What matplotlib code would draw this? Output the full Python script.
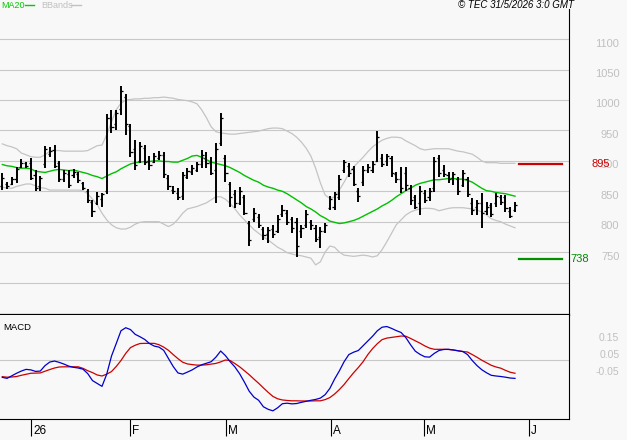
import numpy as np
import matplotlib.pyplot as plt
from matplotlib.lines import Line2D

# daily bars, first session late Dec 2025, last one end of May 2026
opens = [858, 862, 862, 870, 890, 896, 896, 876, 858, 895,
         912, 918, 896, 870, 878, 876, 878, 864, 850, 832,
         830, 838, 850, 970, 960, 985, 1005, 958, 920, 900,
         922, 900, 898, 905, 910, 872, 852, 848, 842, 874,
         882, 885, 895, 905, 898, 885, 930, 905, 862, 845,
         830, 840, 798, 805, 808, 788, 780, 788, 785, 812,
         815, 804, 800, 785, 795, 800, 790, 775, 785, 823,
         825, 840, 885, 892, 886, 850, 865, 885, 885, 900,
         905, 900, 905, 878, 870, 880, 855, 840, 830, 848,
         840, 855, 905, 885, 876, 872, 870, 860, 870, 830,
         825, 830, 818, 828, 830, 840, 840, 818, 820]
highs = [880, 865, 874, 890, 903, 898, 905, 885, 875, 925,
         923, 926, 900, 885, 885, 887, 882, 865, 854, 836,
         849, 847, 977, 984, 984, 1023, 1010, 961, 934, 931,
         926, 908, 913, 916, 915, 877, 859, 855, 882, 888,
         893, 898, 918, 915, 906, 929, 979, 910, 865, 852,
         857, 844, 801, 823, 813, 791, 791, 795, 811, 828,
         819, 808, 806, 795, 819, 803, 795, 791, 798, 842,
         849, 877, 902, 897, 892, 855, 892, 895, 900, 949,
         911, 911, 908, 882, 890, 890, 860, 844, 859, 852,
         855, 906, 910, 893, 882, 882, 874, 885, 874, 839,
         836, 847, 832, 831, 847, 844, 844, 824, 832]
lows = [852, 854, 860, 864, 888, 888, 869, 851, 851, 888,
        906, 888, 865, 865, 855, 872, 864, 852, 831, 808,
        828, 824, 846, 946, 951, 976, 943, 906, 885, 897,
        893, 885, 897, 902, 872, 852, 846, 836, 836, 870,
        877, 882, 888, 888, 877, 831, 925, 865, 824, 823,
        828, 811, 760, 800, 790, 770, 765, 773, 781, 808,
        795, 781, 742, 773, 790, 786, 767, 757, 781, 819,
        819, 836, 880, 874, 859, 832, 859, 880, 880, 898,
        890, 892, 874, 864, 847, 851, 828, 821, 811, 831,
        834, 849, 874, 874, 864, 860, 844, 857, 841, 811,
        811, 790, 811, 808, 824, 828, 816, 806, 816]
closes = [872, 858, 870, 887, 897, 892, 872, 856, 872, 920,
          916, 892, 870, 880, 860, 882, 868, 856, 835, 818,
          843, 845, 970, 955, 978, 1015, 960, 915, 893, 925,
          898, 893, 908, 910, 878, 858, 850, 840, 876, 884,
          888, 895, 910, 896, 880, 920, 970, 880, 840, 830,
          850, 815, 770, 815, 795, 778, 786, 780, 805, 820,
          800, 790, 760, 790, 812, 795, 772, 785, 795, 838,
          845, 870, 898, 880, 862, 842, 885, 890, 895, 940,
          895, 908, 880, 870, 855, 860, 835, 825, 850, 835,
          850, 900, 880, 878, 870, 878, 850, 880, 845, 820,
          830, 815, 825, 812, 843, 832, 822, 810, 828]

ma20 = [894, 892, 891, 889, 888, 888, 887, 883, 882, 881,
        883, 885, 886, 885, 884, 885, 883, 881, 879, 876,
        874, 871, 875, 879, 882, 887, 891, 895, 897, 898,
        899, 899, 900, 900, 899, 899, 898, 898, 901, 904,
        908, 909, 906, 902, 898, 896, 894, 892, 889, 885,
        881, 876, 872, 868, 865, 860, 857, 855, 852, 850,
        846, 841, 836, 831, 825, 821, 816, 810, 806, 801,
        799, 797, 798, 800, 802, 805, 809, 813, 817, 821,
        826, 830, 835, 841, 846, 851, 855, 860, 863, 865,
        867, 869, 869, 870, 871, 871, 870, 870, 868, 865,
        860, 855, 851, 850, 848, 847, 846, 844, 842]
bb_upper = [928, 925, 923, 920, 913, 910, 907, 906, 906, 910,
            916, 917, 917, 916, 916, 916, 916, 916, 917, 921,
            925, 926, 943, 964, 984, 995, 1000, 1001, 1002, 1002,
            1003, 1003, 1004, 1004, 1005, 1004, 1003, 1001, 1000, 999,
            997, 994, 984, 971, 956, 948, 946, 945, 944, 944,
            945, 946, 947, 948, 949, 951, 953, 954, 954, 953,
            949, 945, 939, 931, 921, 908, 888, 864, 844, 838,
            841, 852, 865, 879, 890, 898, 906, 915, 923, 929,
            934, 937, 939, 939, 938, 933, 929, 925, 920, 918,
            919, 920, 920, 920, 920, 918, 916, 915, 913, 911,
            906, 900, 897, 897, 897, 896, 896, 896, 896]
bb_lower = [857, 855, 855, 858, 860, 862, 862, 859, 856, 855,
            852, 852, 852, 852, 852, 852, 852, 851, 846, 837,
            828, 814, 803, 795, 790, 788, 788, 791, 796, 799,
            800, 800, 800, 800, 796, 792, 796, 804, 814, 821,
            823, 825, 828, 831, 836, 841, 841, 837, 830, 821,
            811, 803, 795, 787, 781, 775, 770, 764, 758, 754,
            749, 747, 745, 744, 742, 740, 729, 734, 750, 760,
            758, 750, 745, 744, 743, 744, 745, 744, 742, 744,
            754, 767, 781, 795, 803, 811, 816, 819, 821, 822,
            822, 821, 818, 820, 822, 823, 823, 823, 822, 821,
            819, 816, 811, 805, 802, 800, 796, 793, 790]

macd = [-0.100, -0.106, -0.091, -0.076, -0.063, -0.053, -0.056, -0.065, -0.063, -0.031,
        -0.010, -0.004, -0.012, -0.022, -0.034, -0.041, -0.045, -0.052, -0.078, -0.119,
        -0.136, -0.153, -0.081, 0.025, 0.099, 0.174, 0.192, 0.181, 0.153, 0.139,
        0.123, 0.099, 0.084, 0.078, 0.059, 0.011, -0.036, -0.074, -0.081, -0.069,
        -0.056, -0.039, -0.026, -0.017, -0.008, 0.019, 0.055, 0.028, -0.008, -0.039,
        -0.079, -0.128, -0.181, -0.216, -0.235, -0.273, -0.288, -0.297, -0.279, -0.255,
        -0.252, -0.256, -0.254, -0.247, -0.241, -0.235, -0.230, -0.222, -0.202, -0.165,
        -0.110, -0.062, -0.008, 0.034, 0.048, 0.058, 0.086, 0.114, 0.142, 0.174,
        0.195, 0.199, 0.188, 0.175, 0.164, 0.134, 0.092, 0.054, 0.035, 0.021,
        0.019, 0.041, 0.058, 0.064, 0.065, 0.061, 0.056, 0.052, 0.034, -0.001,
        -0.031, -0.055, -0.073, -0.088, -0.092, -0.095, -0.099, -0.104, -0.106]
signal = [-0.096, -0.099, -0.098, -0.095, -0.088, -0.082, -0.076, -0.075, -0.074, -0.064,
          -0.054, -0.045, -0.039, -0.038, -0.038, -0.038, -0.038, -0.047, -0.061, -0.072,
          -0.086, -0.092, -0.081, -0.066, -0.036, -0.001, 0.041, 0.075, 0.089, 0.099,
          0.100, 0.100, 0.100, 0.092, 0.078, 0.059, 0.034, 0.010, -0.011, -0.021,
          -0.025, -0.028, -0.028, -0.026, -0.022, -0.018, -0.009, 0.002, -0.001, -0.019,
          -0.038, -0.061, -0.084, -0.110, -0.135, -0.162, -0.188, -0.212, -0.226, -0.233,
          -0.236, -0.238, -0.238, -0.239, -0.239, -0.239, -0.238, -0.238, -0.231, -0.219,
          -0.198, -0.172, -0.142, -0.107, -0.073, -0.042, -0.008, 0.034, 0.069, 0.098,
          0.122, 0.131, 0.135, 0.139, 0.143, 0.142, 0.129, 0.115, 0.101, 0.085,
          0.072, 0.065, 0.065, 0.065, 0.064, 0.061, 0.057, 0.052, 0.049, 0.034,
          0.018, 0.001, -0.014, -0.029, -0.039, -0.046, -0.059, -0.070, -0.076]

grid_levels = [700, 750, 800, 850, 900, 950, 1000, 1050, 1100]
price_labels = [750, 800, 850, 900, 950, 1000, 1050, 1100]
macd_labels = [0.15, 0.05, -0.05]
resistance = 895
support = 738

month_pos = [6.1, 26.9, 47.1, 69.2, 88.9, 111.0]
month_labels = ["26", "F", "M", "A", "M", "J"]

BG = "#f8f8f8"
GRID = "#c8c8c8"
W, H = 627, 440
FONT = "Liberation Sans"


def style(ax):
    ax.set_facecolor(BG)
    for s in ("left", "top"):
        ax.spines[s].set_visible(False)
    ax.spines["right"].set_color("black")
    ax.spines["right"].set_linewidth(0.8)
    ax.spines["bottom"].set_color("black")
    ax.set_xlim(-0.485, 119.44)
    ax.tick_params(axis="y", length=0, labelleft=False, labelright=False)
    ax.yaxis.grid(True, color=GRID, lw=0.8)
    ax.set_axisbelow(True)


def plot():
    fig = plt.figure(figsize=(W / 100, H / 100), dpi=100, facecolor=BG)
    ax = fig.add_axes([0, 1 - 314.8 / H, 569.3 / W, (314.8 - 9.3) / H])
    axm = fig.add_axes([0, 1 - 419 / H, 569.3 / W, (419 - 314.8) / H])

    x = np.arange(len(closes))

    # price panel
    style(ax)
    ax.spines["bottom"].set_linewidth(1.6)
    ax.set_ylim(646.9, 1149.3)
    ax.set_yticks(grid_levels)
    ax.set_xticks([])
    ax.plot(x, bb_upper, color="#c4c4c4", lw=0.9)
    ax.plot(x, bb_lower, color="#c4c4c4", lw=0.9)
    ax.plot(x, ma20, color="#00c000", lw=1.0)
    ax.vlines(x, lows, highs, color="black", lw=1.4)
    ax.hlines(opens, x - 0.45, x, color="black", lw=0.9)
    ax.hlines(closes, x, x + 0.45, color="black", lw=0.9)

    ax.axhline(resistance, xmin=519 / 569.3, xmax=562 / 569.3, color="#cc0000", lw=1.6)
    ax.axhline(support, xmin=519 / 569.3, xmax=562 / 569.3, color="#009000", lw=1.6)

    for v in price_labels:
        ax.annotate(str(v), xy=(1, v), xycoords=("axes fraction", "data"),
                    xytext=(50, -4.4), textcoords="offset pixels", ha="right",
                    va="center", color="#c0c0c0", fontsize=8, family=FONT,
                    annotation_clip=False)
    ax.annotate(str(resistance), xy=(1, resistance), xycoords=("axes fraction", "data"),
                xytext=(40.5, -0.5), textcoords="offset pixels", ha="right",
                va="center", color="#cc0000", fontsize=8, family=FONT,
                annotation_clip=False)
    ax.annotate(str(support), xy=(1, support), xycoords=("axes fraction", "data"),
                xytext=(1, 0), textcoords="offset pixels", ha="left",
                va="center", color="#008800", fontsize=8, family=FONT,
                annotation_clip=False)

    # macd panel
    style(axm)
    axm.spines["bottom"].set_linewidth(0.8)
    axm.set_ylim(-0.345, 0.268)
    axm.set_yticks([0])
    axm.plot(x, signal, color="#cc0000", lw=0.9)
    axm.plot(x, macd, color="#0000cc", lw=0.9)
    axm.text(0.005, 0.878, "MACD", transform=axm.transAxes, va="center",
             fontsize=6.8, family=FONT)
    for v in macd_labels:
        axm.annotate(f"{v:.2f}", xy=(1, v), xycoords=("axes fraction", "data"),
                     xytext=(50, -3.5), textcoords="offset pixels", ha="right",
                     va="center", color="#c0c0c0", fontsize=7.5, family=FONT,
                     annotation_clip=False)

    axm.set_xticks(month_pos)
    axm.tick_params(axis="x", length=12.2, width=0.8, color="black",
                    direction="out", labelbottom=False)
    for p, lab in zip(month_pos, month_labels):
        axm.annotate(lab, xy=(p, 0), xycoords=("data", "axes fraction"),
                     xytext=(2, -18), textcoords="offset pixels", ha="left",
                     va="bottom", fontsize=8.5, family=FONT, annotation_clip=False)

    # header
    y0 = 1 - 5 / H
    fig.text(1 / W, y0, "MA20", color="#00cc00", va="center", fontsize=6.5, family=FONT)
    fig.add_artist(Line2D([25 / W, 34 / W], [y0, y0], color="#00cc00", lw=1))
    fig.text(41 / W, y0, "BBands", color="#c0c0c0", va="center", fontsize=6.5, family=FONT)
    fig.add_artist(Line2D([71 / W, 81 / W], [y0, y0], color="#c0c0c0", lw=1))
    fig.text(574 / W, y0, "\u00a9 TEC 31/5/2026 3:0 GMT", ha="right", va="center",
             style="italic", fontsize=7, family=FONT)

    fig.savefig("out.png", dpi=100, facecolor=BG)
    plt.close(fig)


if __name__ == "__main__":
    plot()
